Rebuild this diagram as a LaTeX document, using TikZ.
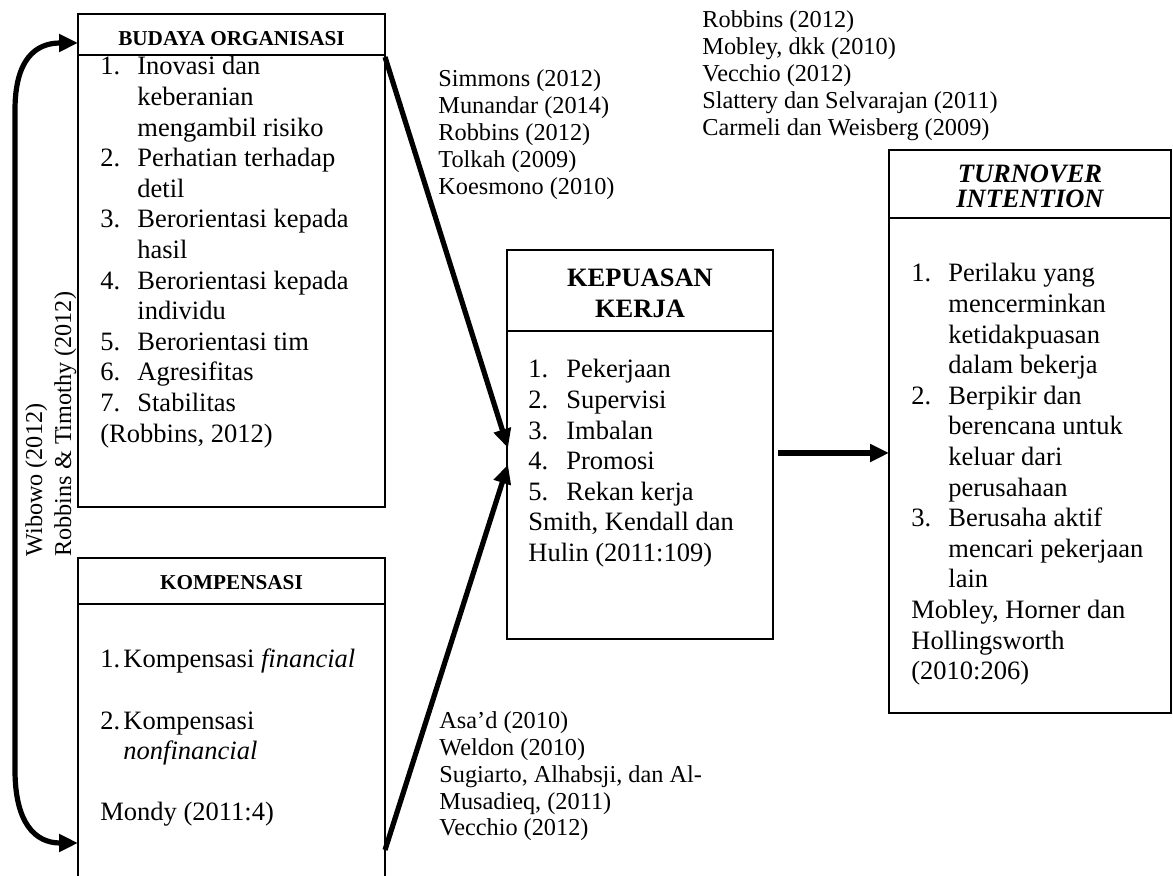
\documentclass[tikz,border=0pt]{standalone}
\usepackage{fontspec}
\setmainfont{Liberation Serif}
\usetikzlibrary{arrows.meta,calc,fit}
\newcommand\bodyfont{\fontsize{13.25}{15.3}\selectfont}
\newcommand\reffont{\fontsize{12.15}{13.5}\selectfont}
\newcommand\smallhead{\fontsize{10.6}{12}\selectfont\bfseries}

\begin{document}
\begin{tikzpicture}[x=0.5pt,y=-0.5pt,
  box/.style={draw,line width=1pt,inner sep=0pt,outer sep=0pt,rectangle},
  sep/.style={line width=0.6pt},
  txt/.style={inner sep=0pt,anchor=base west,font=\bodyfont},
  ref/.style={inner sep=0pt,anchor=base west,font=\reffont},
  head/.style={inner sep=0pt,anchor=base,font=\bodyfont\bfseries},
  tip/.tip={Triangle[length=9.5pt,width=8.5pt]},
  bigarrow/.style={line width=2.6pt,-tip}]
\useasboundingbox (0,0) rectangle (1173,876);

% kotak variabel
\node[box,fit={(78,14) (385,507)}] (budaya) {};
\node[box,fit={(78,558) (385,880)}] (kompensasi) {};
\node[box,fit={(507,250) (773,639)}] (kepuasan) {};
\node[box,fit={(889,150) (1171,713)}] (turnover) {};
\draw[sep] (78,55) -- (385,55);
\draw[sep] (78,604) -- (385,604);
\draw[sep] (507,331) -- (773,331);
\draw[sep] (889,218) -- (1171,218);

% budaya organisasi
\node[inner sep=0pt,anchor=base,font=\smallhead] (budaya-head) at (231.5,46) {BUDAYA ORGANISASI};
\node[txt] (budaya-list) at (100,75) {\begin{tabular}[t]{@{}p{18.5pt}@{}l@{}}
1. & Inovasi dan\\
   & keberanian\\
   & mengambil risiko\\
2. & Perhatian terhadap\\
   & detil\\
3. & Berorientasi kepada\\
   & hasil\\
4. & Berorientasi kepada\\
   & individu\\
5. & Berorientasi tim\\
6. & Agresifitas\\
7. & Stabilitas\\
\multicolumn{2}{@{}l@{}}{(Robbins, 2012)}
\end{tabular}};

% kompensasi
\node[inner sep=0pt,anchor=base,font=\smallhead] (kompensasi-head) at (231.5,590) {KOMPENSASI};
\node[txt] (kompensasi-list) at (100,668) {\begin{tabular}[t]{@{}p{11.5pt}@{}l@{}}
1. & Kompensasi \textit{financial}\\
   & \\
2. & Kompensasi\\
   & \textit{nonfinancial}\\
   & \\
\multicolumn{2}{@{}l@{}}{Mondy (2011:4)}
\end{tabular}};

% kepuasan kerja
\node[head] (kepuasan-head) at (640,287) {\begin{tabular}[t]{@{}c@{}}KEPUASAN\\KERJA\end{tabular}};
\node[txt] (kepuasan-list) at (528,378) {\begin{tabular}[t]{@{}p{19pt}@{}l@{}}
1. & Pekerjaan\\
2. & Supervisi\\
3. & Imbalan\\
4. & Promosi\\
5. & Rekan kerja\\
\multicolumn{2}{@{}l@{}}{Smith, Kendall dan}\\
\multicolumn{2}{@{}l@{}}{Hulin (2011:109)}
\end{tabular}};

% turnover intention
\node[head,font=\fontsize{13.25}{11.5}\selectfont\bfseries\itshape] (turnover-head) at (1030,183) {\begin{tabular}[t]{@{}c@{}}TURNOVER\\INTENTION\end{tabular}};
\node[txt] (turnover-list) at (911,282) {\begin{tabular}[t]{@{}p{18.5pt}@{}l@{}}
1. & Perilaku yang\\
   & mencerminkan\\
   & ketidakpuasan\\
   & dalam bekerja\\
2. & Berpikir dan\\
   & berencana untuk\\
   & keluar dari\\
   & perusahaan\\
3. & Berusaha aktif\\
   & mencari pekerjaan\\
   & lain\\
\multicolumn{2}{@{}l@{}}{Mobley, Horner dan}\\
\multicolumn{2}{@{}l@{}}{Hollingsworth}\\
\multicolumn{2}{@{}l@{}}{(2010:206)}
\end{tabular}};

% sumber rujukan
\node[ref] (ref-budaya) at (438,87) {\begin{tabular}[t]{@{}l@{}}
Simmons (2012)\\ Munandar (2014)\\ Robbins (2012)\\ Tolkah (2009)\\ Koesmono (2010)
\end{tabular}};
\node[ref] (ref-turnover) at (702,28) {\begin{tabular}[t]{@{}l@{}}
Robbins (2012)\\ Mobley, dkk (2010)\\ Vecchio (2012)\\ Slattery dan Selvarajan (2011)\\ Carmeli dan Weisberg (2009)
\end{tabular}};
\node[ref] (ref-kompensasi) at (439,728) {\begin{tabular}[t]{@{}l@{}}
Asa’d (2010)\\ Weldon (2010)\\ Sugiarto, Alhabsji, dan Al-\\ Musadieq, (2011)\\ Vecchio (2012)
\end{tabular}};
\node[inner sep=0pt,rotate=90,anchor=base west,font=\fontsize{12.1}{14.5}\selectfont] (ref-hubungan) at (42,557) {\begin{tabular}[t]{@{}l@{}}
Wibowo (2012)\\ Robbins \& Timothy (2012)
\end{tabular}};

% panah
\draw[bigarrow] ($(budaya.north east)+(0,43)$) -- ($(kepuasan.west)+(1,3.5)$);
\draw[bigarrow] ($(kompensasi.north east)+(0,292)$) -- ($(kepuasan.west)+(1,20)$);
\draw[bigarrow] ($(kepuasan.east)+(5,8.5)$) -- ($(turnover.west)+(0,21.5)$);
\draw[line width=2.6pt,tip-tip] ($(budaya.north west)+(0,29)$) .. controls (35,43) and (15,60) .. (15,110)
  -- (15,770) .. controls (15,823) and (35,843) .. ($(kompensasi.north west)+(0,285)$);
\end{tikzpicture}
\end{document}
